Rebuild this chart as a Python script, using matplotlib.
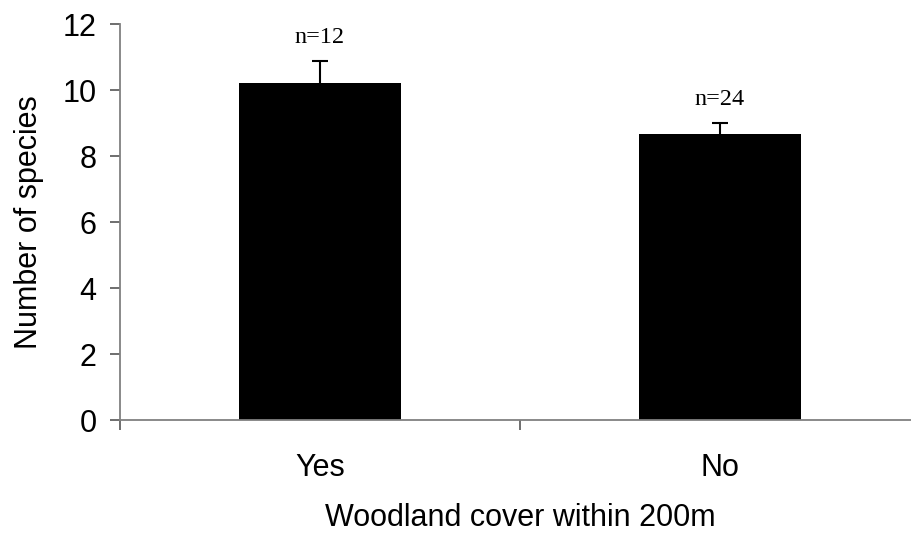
import numpy as np
import matplotlib.pyplot as plt

# mean species counts with standard error, per woodland class
categories = ["Yes", "No"]
means = [10.22, 8.66]
errors = [0.66, 0.33]
sample_sizes = [12, 24]
n_label_y = [11.42, 9.55]

plt.rcParams['font.family'] = ['Liberation Sans', 'DejaVu Sans']

fig = plt.figure(figsize=(9.11, 5.36), dpi=100)
ax = fig.add_axes([120 / 911, 116 / 536, 800 / 911, 396 / 536])

x = np.arange(len(categories))
ax.bar(x, means, width=0.404, color='black', zorder=2)
# symmetric bars drawn behind the columns, so only the upper half shows
ax.errorbar(x, means, yerr=errors, fmt='none',
            ecolor='black', elinewidth=1.5, capsize=5.5, capthick=1.5, zorder=1)

for xi, n, ty in zip(x, sample_sizes, n_label_y):
    ax.text(xi, ty, f"n={n}", ha='center', va='baseline',
            family='Liberation Serif', fontsize=17.5)

ax.set_xlim(-0.5, 1.5)
ax.set_ylim(0, 12)
ax.set_yticks(np.arange(0, 13, 2))

# labels at category centres, tick marks at category boundaries
ax.set_xticks(x)
ax.set_xticklabels(categories)
ax.set_xticks([-0.5, 0.5, 1.5], minor=True)
ax.tick_params(axis='x', which='major', length=0, pad=24, labelsize=22)
ax.tick_params(axis='x', which='minor', length=7, width=1.2, color='#555555', direction='out')
ax.tick_params(axis='y', length=7, width=1.2, color='#555555', direction='out', pad=10, labelsize=22)

for side in ['top', 'right']:
    ax.spines[side].set_visible(False)
for side in ['left', 'bottom']:
    ax.spines[side].set_color('#808080')
    ax.spines[side].set_linewidth(1.3)

ax.set_xlabel("Woodland cover within 200m", fontsize=22, labelpad=14)
ax.set_ylabel("Number of species", fontsize=22, labelpad=13)

fig.savefig('out.png', dpi=100)
